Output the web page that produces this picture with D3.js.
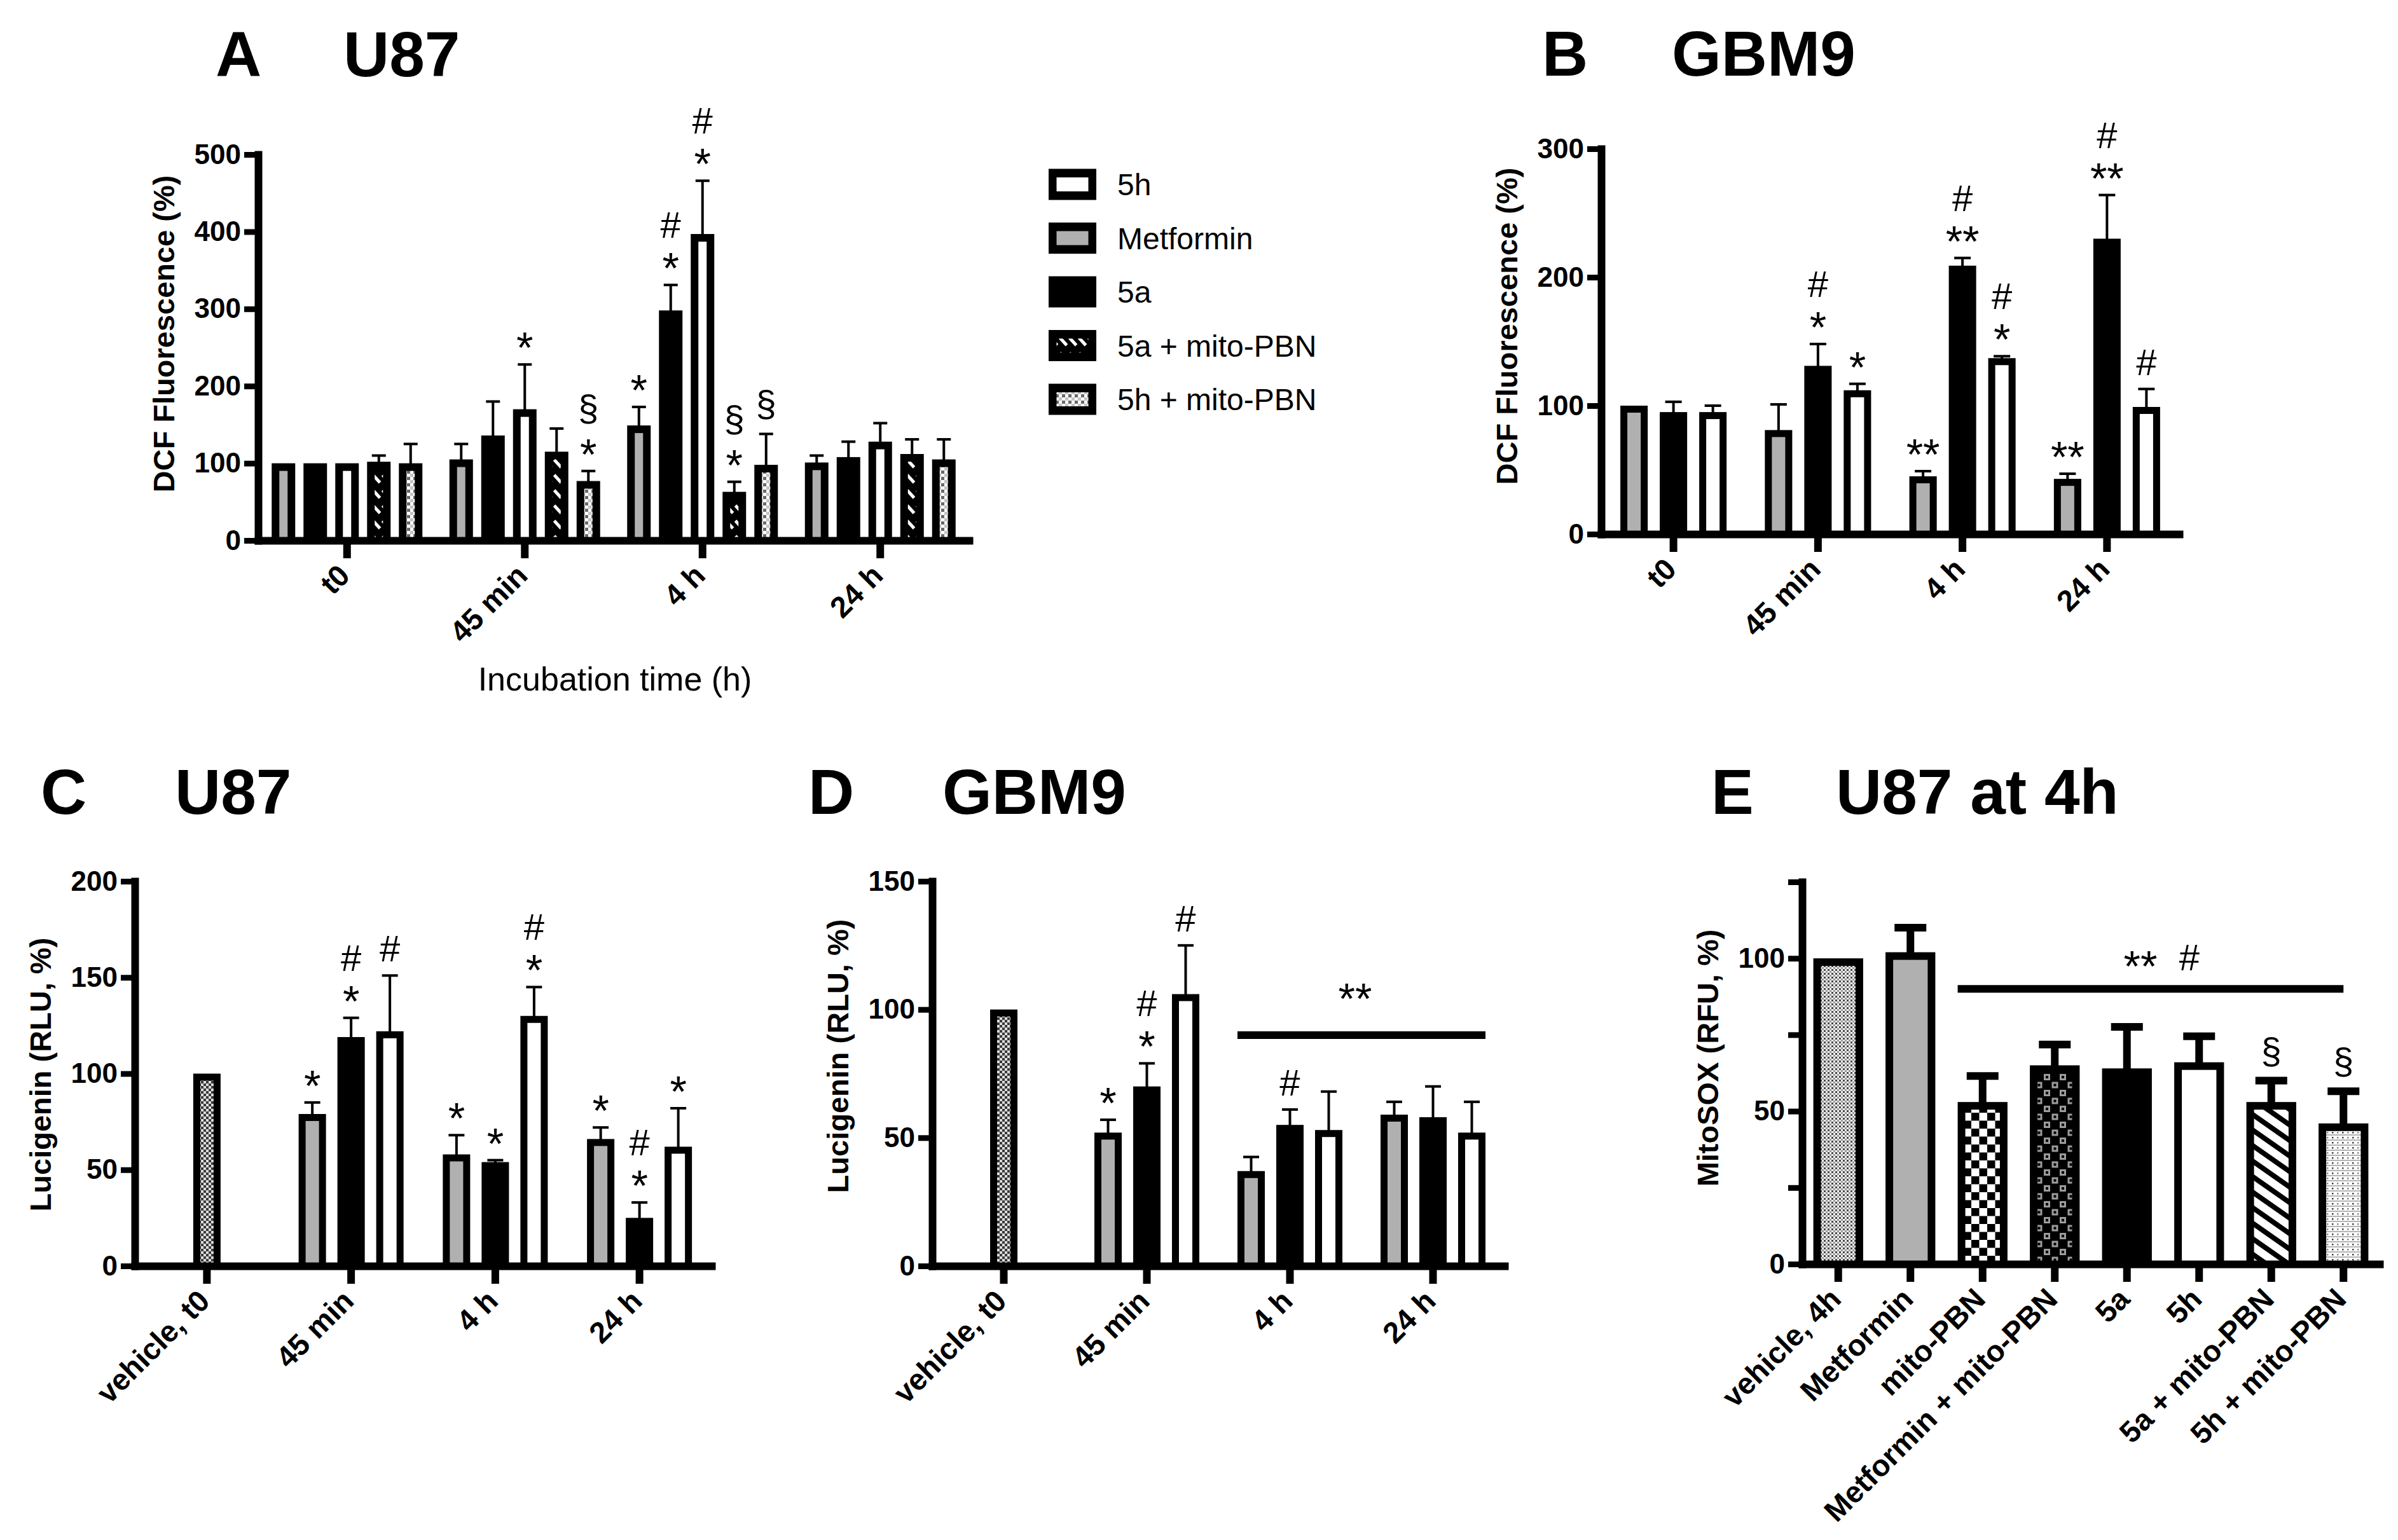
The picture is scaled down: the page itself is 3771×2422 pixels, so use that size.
<!DOCTYPE html>
<html><head><meta charset="utf-8">
<script src="https://cdn.jsdelivr.net/npm/d3@7/dist/d3.min.js"></script>
<style>
html,body{margin:0;padding:0;background:#fff;}
svg{display:block;font-family:"Liberation Sans",Arial,sans-serif;}
</style></head><body>
<svg id="chart"></svg>
<script>
// ================= DATA =================
const timeLabelsAB = ["t0", "45 min", "4 h", "24 h"];
const timeLabelsCD = ["vehicle, t0", "45 min", "4 h", "24 h"];
const seriesA = ["Metformin", "5a", "5h", "5a + mito-PBN", "5h + mito-PBN"];
const seriesBCD = ["Metformin", "5a", "5h"];
const legendItems = ["5h", "Metformin", "5a", "5a + mito-PBN", "5h + mito-PBN"];

// Panel A – U87, DCF fluorescence (%) [series][time]
const aTicks = [0, 100, 200, 300, 400, 500];
const aMean = [
  [100, 105, 149, 101],
  [100, 136, 298, 108],
  [100, 170, 397, 128],
  [102, 115, 63, 112],
  [100, 77, 98, 105]
];
const aErr = [
  [0, 20, 24, 9],
  [0, 44, 33, 20],
  [0, 58, 69, 24],
  [8, 30, 13, 19],
  [25, 13, 40, 26]
];
const aMarks = [
  [[], [], ["*"], []],
  [[], [], ["*", "#"], []],
  [[], ["*"], ["*", "#"], []],
  [[], [], ["*", "§"], []],
  [[], ["*", "§"], ["§"], []]
];

// Panel B – GBM9, DCF fluorescence (%)
const bTicks = [0, 100, 200, 300];
const bMean = [
  [100, 81, 45, 43],
  [95, 131, 209, 230],
  [95, 112, 137, 99]
];
const bErr = [
  [0, 20, 4, 4],
  [8, 17, 6, 34],
  [5, 5, 1.5, 14]
];
const bMarks = [
  [[], [], ["**"], ["**"]],
  [[], ["*", "#"], ["**", "#"], ["**", "#"]],
  [[], ["*"], ["*", "#"], ["#"]]
];

// Panel C – U87, Lucigenin (RLU, %) ; vehicle at t0, then [series][45 min, 4 h, 24 h]
const cTicks = [0, 50, 100, 150, 200];
const cVehicle = 100;
const cMean = [
  [79, 58, 66],
  [119, 54, 25],
  [122, 130, 62]
];
const cErr = [
  [6, 10, 6],
  [10, 1, 8],
  [29, 15, 20]
];
const cMarks = [
  [["*"], ["*"], ["*"]],
  [["*", "#"], ["*"], ["*", "#"]],
  [["#"], ["*", "#"], ["*"]]
];

// Panel D – GBM9, Lucigenin (RLU, %)
const dTicks = [0, 50, 100, 150];
const dVehicle = 100;
const dMean = [
  [52, 37, 59],
  [70, 55, 58],
  [106, 53, 52]
];
const dErr = [
  [5, 5.5, 5],
  [9, 6, 12],
  [19, 15, 12]
];
const dMarks = [
  [["*"], [], []],
  [["*", "#"], ["#"], []],
  [["#"], [], []]
];
const dBracketValue = 90;
const dBracketLabel = "**";

// Panel E – U87 at 4h, MitoSOX (RFU, %)
const eCats = ["vehicle, 4h", "Metformin", "mito-PBN", "Metformin + mito-PBN", "5a", "5h", "5a + mito-PBN", "5h + mito-PBN"];
const eTicks = [0, 25, 50, 75, 100, 125];
const eTickLabels = [0, 50, 100];
const eMean = [100, 102, 53, 65, 64, 66, 53, 46];
const eErr = [0, 8, 8.5, 6.8, 13.6, 8.5, 7, 10.5];
const eMarks = [[], [], [], [], [], [], ["§"], ["§"]];
const eBracketValue = 90;
const eBracketLabels = ["**", "#"];

// ================= STYLES =================
const W = 3771, H = 2422;
const svg = d3.select("#chart").attr("width", W).attr("height", H).attr("viewBox", `0 0 ${W} ${H}`);
svg.append("rect").attr("width", W).attr("height", H).attr("fill", "#fff");
const defs = svg.append("defs");

function pattern(id, w, h, build, transform) {
  const p = defs.append("pattern").attr("id", id).attr("patternUnits", "userSpaceOnUse")
    .attr("width", w).attr("height", h);
  if (transform) p.attr("patternTransform", transform);
  build(p);
}
function sq(p, x, y, w, h, c) { p.append("rect").attr("x", x).attr("y", y).attr("width", w).attr("height", h).attr("fill", c); }

pattern("pDiagA", 15, 24, p => {
  sq(p, 0, 0, 15, 24, "#000");
  p.append("line").attr("x1", 1.5).attr("y1", 3).attr("x2", 12.5).attr("y2", 15).attr("stroke", "#fff").attr("stroke-width", 5);
});
pattern("pDotsA", 10, 10, p => { sq(p, 0, 0, 10, 10, "#fff"); sq(p, 0, 0, 5, 5, "#6a6a6a"); sq(p, 5, 5, 5, 5, "#c4c4c4"); });
pattern("pFine", 8, 8, p => { sq(p, 0, 0, 8, 8, "#dcdcdc"); sq(p, 0, 0, 4, 4, "#3a3a3a"); sq(p, 4, 4, 4, 4, "#3a3a3a"); });
pattern("pVehE", 6, 6, p => { sq(p, 0, 0, 6, 6, "#f2f2f2"); sq(p, 0, 0, 3, 3, "#4a4a4a"); sq(p, 3, 3, 3, 3, "#9a9a9a"); });
pattern("pChk", 25, 25, p => { sq(p, 0, 0, 25, 25, "#fff"); sq(p, 0, 0, 12.5, 12.5, "#000"); sq(p, 12.5, 12.5, 12.5, 12.5, "#000"); });
pattern("pChkGray", 25, 25, p => {
  sq(p, 0, 0, 25, 25, "#000");
  sq(p, 1.5, 1.5, 10, 10, "#9c9c9c"); sq(p, 14, 14, 10, 10, "#9c9c9c");
  sq(p, 4.5, 4.5, 4, 4, "#000"); sq(p, 17, 17, 4, 4, "#000");
});
pattern("pStripe", 20, 20, p => { sq(p, 0, 0, 20, 20, "#fff"); sq(p, 0, 0, 20, 8, "#000"); }, "rotate(35)");
pattern("pDotE", 16, 8, p => {
  sq(p, 0, 0, 16, 8, "#fff"); sq(p, 0, 0, 16, 2, "#b4b4b4");
  sq(p, 3, 4, 2.5, 2.5, "#444"); sq(p, 11, 4, 2.5, 2.5, "#8a8a8a");
});

const fillBySeries = {
  "Metformin": "#b0b0b0",
  "5a": "#000",
  "5h": "#fff",
  "5a + mito-PBN": "url(#pDiagA)",
  "5h + mito-PBN": "url(#pDotsA)",
  "vehicle": "url(#pFine)"
};
const fillE = {
  "vehicle, 4h": "url(#pVehE)",
  "Metformin": "#b0b0b0",
  "mito-PBN": "url(#pChk)",
  "Metformin + mito-PBN": "url(#pChkGray)",
  "5a": "#000",
  "5h": "#fff",
  "5a + mito-PBN": "url(#pStripe)",
  "5h + mito-PBN": "url(#pDotE)"
};

const BOLD = 700;
const STAR_SIZE = 68, SYM_SIZE = 58;

// ================= HELPERS =================
function symbolBaselineOffset(s) {
  if (s.startsWith("*")) return Math.round(STAR_SIZE * 0.58);
  if (s === "§") return 15;
  return 20;
}
function symbolSize(s) { return s.startsWith("*") ? STAR_SIZE : SYM_SIZE; }

function drawSymbol(g, s, cx, cy) {
  g.append("text").attr("x", cx).attr("y", cy + symbolBaselineOffset(s))
    .attr("text-anchor", "middle").attr("font-size", symbolSize(s)).text(s);
}

function drawBar(g, b, y, st) {
  const top = y(b.v), bot = y(0);
  g.append("rect").attr("x", b.cx - b.w / 2).attr("y", top).attr("width", b.w).attr("height", bot - top).attr("fill", "#000");
  g.append("rect").attr("x", b.cx - b.w / 2 + st.border).attr("y", top + st.border)
    .attr("width", b.w - 2 * st.border).attr("height", Math.max(0, bot - top - st.border)).attr("fill", b.fill);
  let base = top;
  if (b.e > 0) {
    const et = y(b.v + b.e);
    g.append("line").attr("x1", b.cx).attr("x2", b.cx).attr("y1", top + 1).attr("y2", et)
      .attr("stroke", "#000").attr("stroke-width", st.errW);
    g.append("line").attr("x1", b.cx - st.capW / 2).attr("x2", b.cx + st.capW / 2).attr("y1", et).attr("y2", et)
      .attr("stroke", "#000").attr("stroke-width", st.capH);
    base = et;
  }
  (b.m || []).forEach((s, k) => drawSymbol(g, s, b.cx, base - 42 - 52 * k));
}

function drawAxes(g, x, y, cfg) {
  const ya = d3.axisLeft(y).tickValues(cfg.ticks).tickSize(22).tickSizeOuter(0).tickPadding(5)
    .tickFormat(d => (cfg.tickLabels ? (cfg.tickLabels.includes(d) ? d : "") : d));
  const yg = g.append("g").attr("transform", `translate(${cfg.x0},0)`).call(ya)
    .attr("font-family", null).attr("font-size", null);
  yg.select(".domain").attr("stroke-width", 12).attr("stroke-linecap", "square");
  yg.selectAll(".tick line").attr("stroke-width", 9);
  yg.selectAll(".tick text").attr("font-size", 44).attr("font-weight", BOLD).attr("fill", "#000");

  const xa = d3.axisBottom(x).tickSize(28).tickSizeOuter(0);
  const xg = g.append("g").attr("transform", `translate(0,${cfg.yZero})`).call(xa)
    .attr("font-family", null).attr("font-size", null);
  xg.select(".domain").attr("stroke-width", 12).attr("stroke-linecap", "square");
  xg.selectAll(".tick line").attr("stroke-width", 12);
  xg.selectAll(".tick text").attr("x", 0).attr("y", 0).attr("dy", null)
    .attr("transform", "translate(7,58) rotate(-45)").attr("text-anchor", "end")
    .attr("font-size", 47).attr("font-weight", BOLD).attr("fill", "#000");

  g.append("text").attr("transform", `translate(${cfg.x0 - 132},${cfg.ytitleY}) rotate(-90)`)
    .attr("text-anchor", "middle").attr("font-size", 47).attr("font-weight", BOLD).text(cfg.ytitle);

  g.append("text").attr("x", cfg.letterX).attr("y", cfg.titleY).attr("font-size", 100).attr("font-weight", BOLD).text(cfg.letter);
  g.append("text").attr("x", cfg.titleX).attr("y", cfg.titleY).attr("font-size", 100).attr("font-weight", BOLD).text(cfg.title);
}

// Grouped panels (A, B, C, D)
function groupedPanel(cfg) {
  const g = svg.append("g");
  const x = d3.scaleBand().domain(cfg.groups).range([cfg.x0, cfg.x1]).padding(0);
  const y = d3.scaleLinear().domain([0, d3.max(cfg.ticks)]).range([cfg.yZero, cfg.yTop]);
  const xi = d3.scaleBand().domain(cfg.series).range([-cfg.innerHalf, cfg.innerHalf])
    .paddingInner(cfg.pi).paddingOuter(cfg.pi / 2);
  const gc = grp => x(grp) + x.bandwidth() / 2;
  const bars = [];
  const first = cfg.vehicle !== undefined ? 1 : 0;
  if (cfg.vehicle !== undefined) {
    bars.push({ cx: gc(cfg.groups[0]), w: xi.bandwidth(), v: cfg.vehicle, e: 0, m: [], fill: fillBySeries.vehicle });
  }
  cfg.series.forEach((s, i) => {
    cfg.means[i].forEach((v, j) => {
      const grp = cfg.groups[j + first];
      bars.push({ cx: gc(grp) + xi(s) + xi.bandwidth() / 2, w: xi.bandwidth(), v, e: cfg.errs[i][j], m: cfg.marks[i][j], fill: fillBySeries[s] });
    });
  });
  bars.forEach(b => drawBar(g, b, y, cfg.style));
  drawAxes(g, x, y, cfg);
  return { g, x, y, xi, gc };
}

// ================= PANEL A =================
groupedPanel({
  groups: timeLabelsAB, series: seriesA, means: aMean, errs: aErr, marks: aMarks, ticks: aTicks,
  x0: 406, x1: 1524, yTop: 243, yZero: 850, innerHalf: 125, pi: 0.26,
  style: { border: 12, errW: 4, capW: 22, capH: 4 },
  ytitle: "DCF Fluorescence (%)", ytitleY: 525,
  letter: "A", letterX: 339, title: "U87", titleX: 540, titleY: 120
});
svg.append("text").attr("x", 967).attr("y", 1086).attr("text-anchor", "middle").attr("font-size", 52).text("Incubation time (h)");

// Legend
const lg = svg.append("g");
const ly = d3.scalePoint().domain(legendItems).range([290, 628]);
legendItems.forEach(s => {
  const cy = ly(s);
  lg.append("rect").attr("x", 1649).attr("y", cy - 24.5).attr("width", 75).attr("height", 49).attr("fill", "#000");
  lg.append("rect").attr("x", 1661.5).attr("y", cy - 11).attr("width", 50).attr("height", 22).attr("fill", fillBySeries[s]);
  lg.append("text").attr("x", 1757).attr("y", cy + 17).attr("font-size", 48).text(s);
});

// ================= PANEL B =================
groupedPanel({
  groups: timeLabelsAB, series: seriesBCD, means: bMean, errs: bErr, marks: bMarks, ticks: bTicks,
  x0: 2518, x1: 3427, yTop: 234, yZero: 840, innerHalf: 93, pi: 0.306,
  style: { border: 11, errW: 4, capW: 26, capH: 4 },
  ytitle: "DCF Fluorescence (%)", ytitleY: 513,
  letter: "B", letterX: 2425, title: "GBM9", titleX: 2629, titleY: 119
});

// ================= PANEL C =================
groupedPanel({
  groups: timeLabelsCD, series: seriesBCD, vehicle: cVehicle, means: cMean, errs: cErr, marks: cMarks, ticks: cTicks,
  x0: 212, x1: 1119, yTop: 1386, yZero: 1991, innerHalf: 91.5, pi: 0.295,
  style: { border: 11, errW: 4, capW: 25, capH: 4 },
  ytitle: "Lucigenin (RLU, %)", ytitleY: 1690,
  letter: "C", letterX: 64, title: "U87", titleX: 275, titleY: 1280
});

// ================= PANEL D =================
const pd = groupedPanel({
  groups: timeLabelsCD, series: seriesBCD, vehicle: dVehicle, means: dMean, errs: dErr, marks: dMarks, ticks: dTicks,
  x0: 1466, x1: 2366, yTop: 1386, yZero: 1991, innerHalf: 91.5, pi: 0.295,
  style: { border: 11, errW: 4, capW: 25, capH: 4 },
  ytitle: "Lucigenin (RLU, %)", ytitleY: 1661,
  letter: "D", letterX: 1271, title: "GBM9", titleX: 1482, titleY: 1280
});
{
  const xL = pd.gc("4 h") + pd.xi("Metformin");
  const xR = pd.gc("24 h") + pd.xi("5h") + pd.xi.bandwidth();
  const yb = pd.y(dBracketValue);
  pd.g.append("line").attr("x1", xL).attr("x2", xR).attr("y1", yb).attr("y2", yb).attr("stroke", "#000").attr("stroke-width", 12);
  drawSymbol(pd.g, dBracketLabel, (xL + xR) / 2 - 10, yb - 73);
}

// ================= PANEL E =================
{
  const cfg = {
    ticks: eTicks, tickLabels: eTickLabels, x0: 2834, x1: 3742, yTop: 1387, yZero: 1988,
    ytitle: "MitoSOX (RFU, %)", ytitleY: 1664,
    letter: "E", letterX: 2691, title: "U87 at 4h", titleX: 2887, titleY: 1280
  };
  const g = svg.append("g");
  const x = d3.scaleBand().domain(eCats).range([cfg.x0, cfg.x1]).paddingInner(0.31).paddingOuter(0.155);
  const y = d3.scaleLinear().domain([0, d3.max(eTicks)]).range([cfg.yZero, cfg.yTop]);
  const st = { border: 12, errW: 12, capW: 50, capH: 12 };
  eCats.forEach((c, i) => {
    drawBar(g, { cx: x(c) + x.bandwidth() / 2, w: x.bandwidth(), v: eMean[i], e: eErr[i], m: eMarks[i], fill: fillE[c] }, y, st);
  });
  drawAxes(g, x, y, cfg);
  const xL = x("mito-PBN");
  const xR = x("5h + mito-PBN") + x.bandwidth() / 2;
  const yb = y(eBracketValue);
  g.append("line").attr("x1", xL).attr("x2", xR).attr("y1", yb).attr("y2", yb).attr("stroke", "#000").attr("stroke-width", 12);
  const mid = (xL + xR) / 2;
  drawSymbol(g, eBracketLabels[0], mid - 16, yb - 51);
  drawSymbol(g, eBracketLabels[1], mid + 61, yb - 49);
}
</script>
</body></html>
